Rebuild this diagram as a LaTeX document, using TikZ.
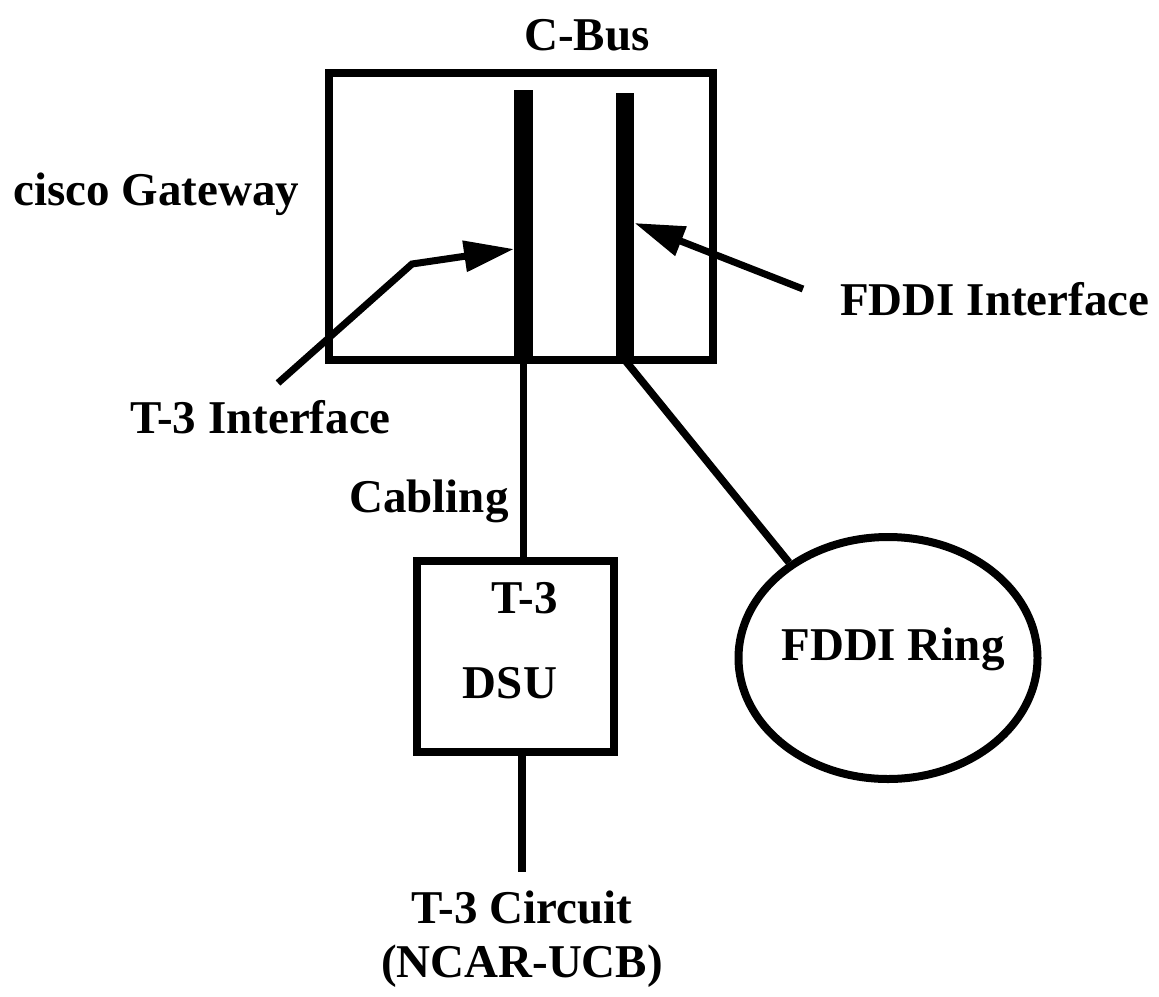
\documentclass[tikz,border=0pt]{standalone}
\usepackage{fontspec}
\setmainfont{Liberation Serif}
\usetikzlibrary{arrows.meta,shapes.geometric}
\tikzset{
  lbl/.style={font=\fontsize{47}{56}\selectfont\bfseries, inner sep=0pt, anchor=base},
  frame/.style={draw, line width=8pt, inner sep=0pt},
  bus/.style={fill=black, inner sep=0pt, minimum width=18.5pt},
  wire/.style={line width=7.5pt},
  arr/.style={line width=7pt, -{Triangle[length=50pt,width=30pt]}}
}
\begin{document}
\begin{tikzpicture}[x=1pt,y=-1pt]
\useasboundingbox (0,0) rectangle (1159,996);
% boxes
\node[frame, minimum width=383.5pt, minimum height=286.7pt] (gw) at (520.75,216.7) {};
\node[frame, minimum width=197pt, minimum height=191pt] (dsu) at (515.5,656.5) {};
\node[frame, ellipse, minimum width=299pt, minimum height=242pt] (ring) at (888,658) {};
% bus bars
\node[bus, minimum height=270pt] (bar1) at (523.5,225) {};
\node[bus, minimum height=267pt] (bar2) at (625,226.5) {};
% labels
\node[lbl] (cbus) at (587,50) {C-Bus};
\node[lbl, anchor=base west] (cisco) at (13,205) {cisco Gateway};
\node[lbl, anchor=base west] (fddiif) at (840,315) {FDDI Interface};
\node[lbl, anchor=base west] (t3if) at (130,433) {T-3 Interface};
\node[lbl, anchor=base west] (cabling) at (349,512) {Cabling};
\node[lbl] (dsut3) at (525,613) {T-3};
\node[lbl] (dsutxt) at (510,698) {DSU};
\node[lbl] (ringtxt) at (893,660) {FDDI Ring};
\node[lbl] (circ) at (522,923) {T-3 Circuit};
\node[lbl] (ncar) at (522,977) {(NCAR-UCB)};
% coordinates
\coordinate (t3start) at (278,383);
\coordinate (t3bend) at (412,264);
\coordinate (t3y) at (0,249);
\coordinate (fdstart) at (803,289);
\coordinate (fdy) at (0,223);
\coordinate (circtop) at (522,872);
% connectors
\draw[wire] (bar1.south) -- (bar1.south |- dsu.north);
\draw[wire] (circtop |- dsu.south) -- (circtop);
\draw[wire] (bar2.south) -- (ring.136);
\draw[arr] (t3start) -- (t3bend) -- (bar1.west |- t3y);
\draw[arr] (fdstart) -- (bar2.east |- fdy);
\end{tikzpicture}
\end{document}
